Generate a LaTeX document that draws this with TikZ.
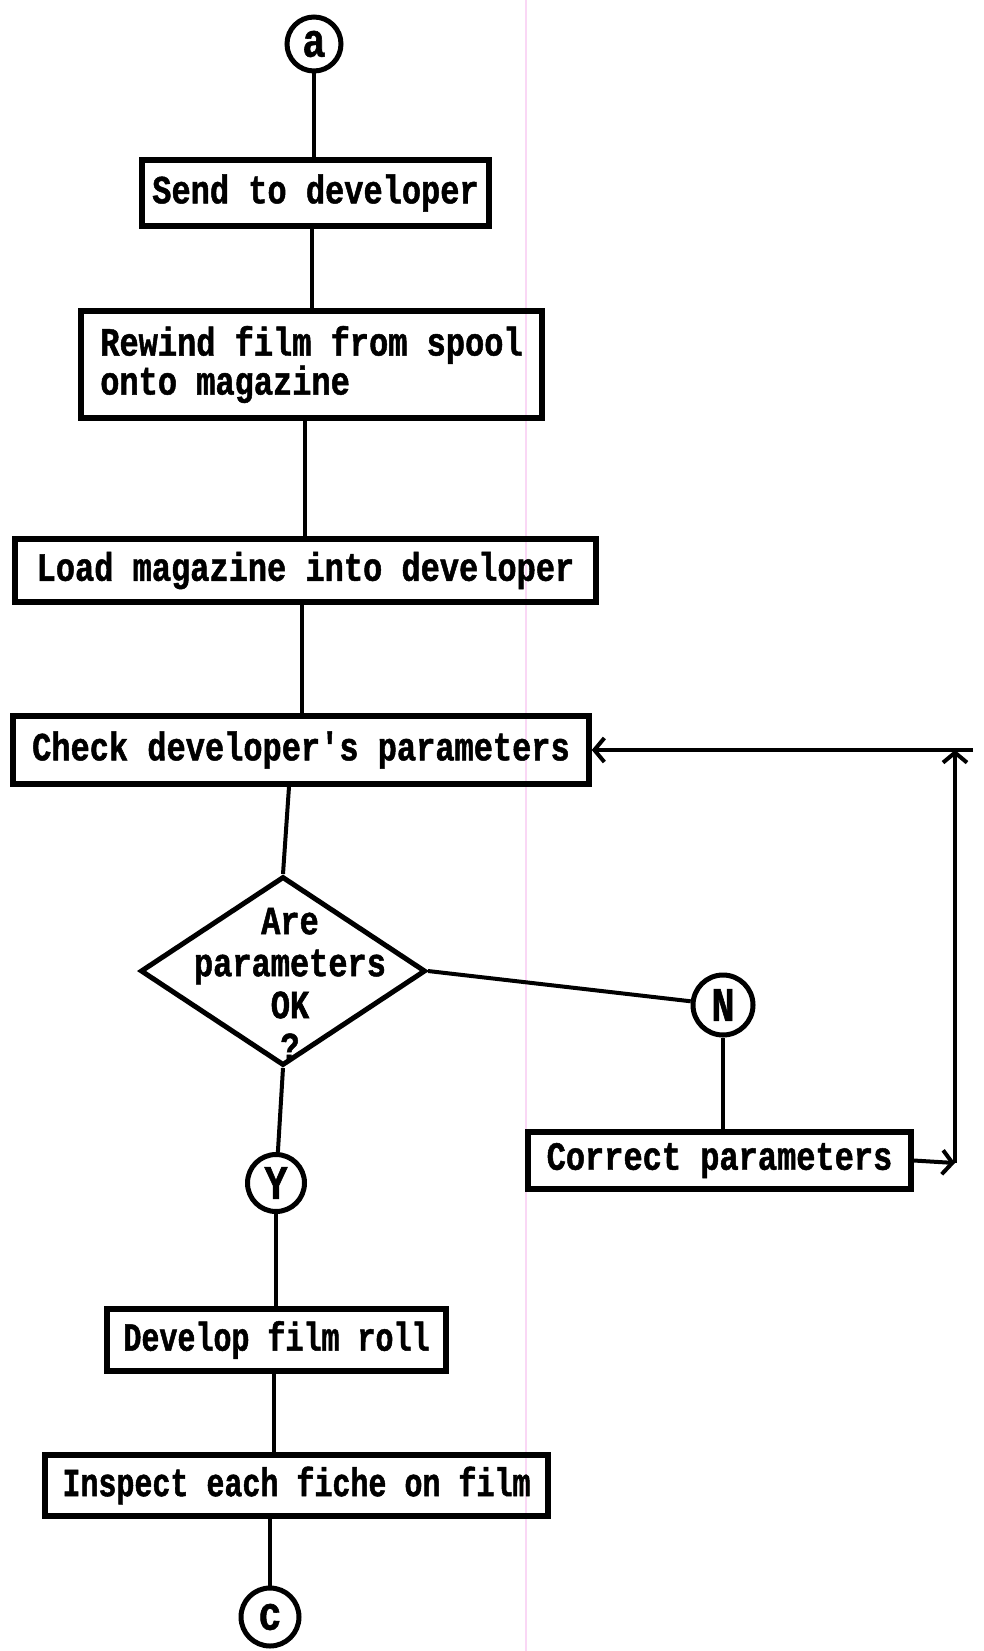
\documentclass[tikz,border=0pt]{standalone}
\usepackage{fontspec}
\usetikzlibrary{shapes.geometric,arrows.meta}
\newfontfamily\twfont[FakeStretch=0.8,BoldFeatures={FakeBold=1.2}]{Liberation Mono}
\newfontfamily\twnarrow[FakeStretch=0.75,BoldFeatures={FakeBold=1.2}]{Liberation Mono}
\begin{document}
\begin{tikzpicture}[x=1pt,y=-1pt,
  txt/.style={font=\twfont\bfseries\fontsize{40}{42}\selectfont},
  narrow/.style={font=\twnarrow\bfseries\fontsize{40}{42}\selectfont},
  stepbox/.style={txt,draw,line width=5.5pt,inner sep=0pt,align=center},
  conn/.style={circle,draw,line width=5pt,inner sep=0pt,font=\twfont\bfseries\fontsize{48}{48}\selectfont},
  link/.style={line width=4pt},
  arr/.style={line width=4pt,-{Straight Barb[length=10pt,width=24pt,line width=4pt]}}]
\useasboundingbox (0,0) rectangle (984,1651);
% faint guide line left on the sheet
\draw[color={rgb,255:red,250;green,215;blue,245},line width=1.5pt] (526,0) -- (526,1651);

% main column
\node[conn,minimum size=54pt] (a) at (314,44) {a};
\node[stepbox,minimum width=347pt,minimum height=66pt] (send) at (315.5,193) {Send to developer};
\node[stepbox,align=left,minimum width=461pt,minimum height=107pt] (rewind) at (311.5,364.5)
  {Rewind film from spool\\[-3pt]onto magazine};
\node[stepbox,minimum width=581pt,minimum height=63pt] (load) at (305.5,570.5) {Load magazine into developer};
\node[stepbox,minimum width=576pt,minimum height=68pt] (check) at (301,750) {Check developer's parameters};
\node[diamond,draw,line width=5pt,inner sep=0pt,minimum width=285pt,minimum height=189pt] (dia) at (283,971) {};
\node[txt,align=center] (diatext) at ([xshift=7pt,yshift=-13pt]dia.center) {Are\\parameters\\OK\\?};

% correction branch
\node[conn,minimum size=60pt] (no) at (723,1005) {N};
\node[stepbox,minimum width=383pt,minimum height=57pt] (corr) at (719.5,1160.5) {Correct parameters};
\coordinate (rt) at (955,1163);
\coordinate (tp) at (955,750);
\coordinate (tpr) at (973,750);

% yes branch
\node[conn,minimum size=57pt] (yes) at (276,1183) {Y};
\node[stepbox,narrow,minimum width=339pt,minimum height=62pt] (dev) at (276.5,1340) {Develop film roll};
\node[stepbox,narrow,minimum width=503pt,minimum height=61pt] (insp) at (296.5,1485.5) {Inspect each fiche on film};
\node[conn,minimum size=58pt] (c) at (270,1617) {c};

% connectors
\draw[link] (a.south) -- (a.south |- send.north);
\draw[link] ([xshift=-4pt]send.south) -- ([xshift=-4pt]send.south |- rewind.north);
\draw[link] ([xshift=-6.5pt]rewind.south) -- ([xshift=-6.5pt]rewind.south |- load.north);
\draw[link] ([xshift=-3.5pt]load.south) -- ([xshift=-3.5pt]load.south |- check.north);
\draw[link] ([xshift=-12pt]check.south) -- (dia.north);
\draw[link] (dia.east) -- (no);
\draw[link] (no.south) -- (no.south |- corr.north);
\draw[arr] (corr.east) -- (rt);
\draw[arr] (rt) -- (tp);
\draw[arr] (tpr) -- (check.east);
\draw[link] (dia.south) -- (yes);
\draw[link] (yes.south) -- (yes.south |- dev.north);
\draw[link] ([xshift=-2.5pt]dev.south) -- ([xshift=-2.5pt]dev.south |- insp.north);
\draw[link] (c.north |- insp.south) -- (c.north);
\end{tikzpicture}
\end{document}
